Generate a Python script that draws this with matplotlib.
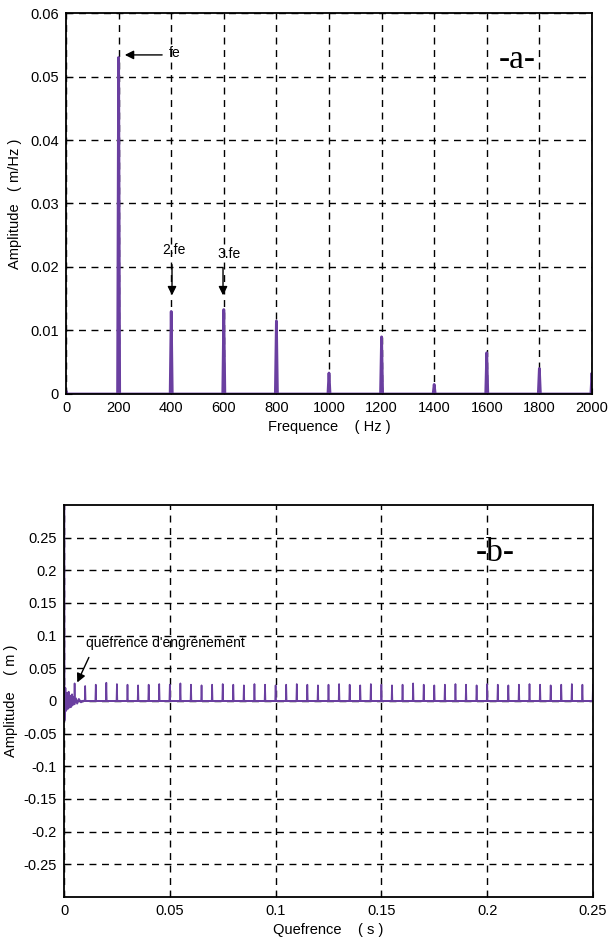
import numpy as np
import matplotlib.pyplot as plt
from matplotlib.ticker import FormatStrFormatter

plt.rcParams['font.family'] = ['Liberation Sans', 'DejaVu Sans']

# Spectre : raies a fe = 200 Hz et harmoniques
freq_peaks = [0, 200, 400, 600, 800, 1000, 1200, 1400, 1600, 1800, 2000]
amp_peaks = [0.0005, 0.053, 0.013, 0.0133, 0.0115, 0.0033, 0.009, 0.0015, 0.0065, 0.004, 0.0033]

# Cepstre : pics tous les 1/fe = 0.005 s
q_peaks = [0.005 * k for k in range(1, 51)]
amp_qpeaks = [0.027, 0.023, 0.025, 0.028, 0.026, 0.025, 0.024, 0.025, 0.026, 0.025,
              0.027, 0.025, 0.024, 0.025, 0.026, 0.025, 0.024, 0.026, 0.025, 0.024,
              0.025, 0.026, 0.025, 0.024, 0.025, 0.026, 0.025, 0.024, 0.026, 0.025,
              0.024, 0.025, 0.027, 0.025, 0.024, 0.025, 0.026, 0.025, 0.024, 0.026,
              0.025, 0.024, 0.025, 0.026, 0.025, 0.024, 0.025, 0.026, 0.025, 0.025]
# debut du cepstre (pic a q=0 et oscillations)
q_start = [0.0, 0.0002, 0.0006, 0.001, 0.0014, 0.0018, 0.0022, 0.0026, 0.003, 0.0034,
           0.0038, 0.0042, 0.0046, 0.0050, 0.0056, 0.0062, 0.0070, 0.0080, 0.0090]
amp_start = [1.0, -0.03, 0.02, -0.015, 0.012, -0.012, 0.014, -0.01, 0.008, -0.009,
             0.01, -0.006, 0.006, -0.005, 0.004, -0.004, 0.003, -0.002, 0.0]

yticks_b = [-0.25, -0.2, -0.15, -0.1, -0.05, 0, 0.05, 0.1, 0.15, 0.2, 0.25]
ylabels_b = ['-0.25', '-0.2', '-0.15', '-0.1', '-0.05', '0', '0.05', '0.1', '0.15', '0.2', '0.25']

col = '#6a3fa0'


def spikes(pos, amp, w):
    xs, ys = [], []
    for p, a in zip(pos, amp):
        xs += [p - w, p, p + w]
        ys += [0, a, 0]
    return xs, ys


fig = plt.figure(figsize=(6.08, 9.43), dpi=100)

# --- Figure a ---
ax1 = fig.add_axes([0.1086, 0.5822, 0.865, 0.404])
x1, y1 = spikes(freq_peaks, amp_peaks, 4)
ax1.plot([0, 2000], [0, 0], color=col, lw=2)
ax1.plot(x1, y1, color=col, lw=2)
ax1.set_xlim(0, 2000)
ax1.set_ylim(0, 0.06)
ax1.set_xticks(np.arange(0, 2001, 200))
ax1.set_yticks(np.arange(0, 0.061, 0.01))
ax1.yaxis.set_major_formatter(FormatStrFormatter('%g'))
ax1.grid(True, color='k', ls=(0, (5, 4)), lw=1)
ax1.set_xlabel('Frequence    ( Hz )', fontsize=10.5, labelpad=4)
ax1.set_ylabel('Amplitude   ( m/Hz )', fontsize=10.5, labelpad=6)
ax1.text(1715, 0.0527, '-a-', family='Liberation Serif', fontsize=24, ha='center', va='center')
ax1.annotate('', xy=(213, 0.0534), xytext=(376, 0.0534),
             arrowprops=dict(arrowstyle='-|>', color='k', lw=1, mutation_scale=13))
ax1.text(392, 0.0537, 'fe', fontsize=10, ha='left', va='center')
ax1.annotate('', xy=(403, 0.0151), xytext=(403, 0.0208),
             arrowprops=dict(arrowstyle='-|>', color='k', lw=1, mutation_scale=13))
ax1.text(410, 0.0227, '2.fe', fontsize=10, ha='center', va='center')
ax1.annotate('', xy=(597, 0.0151), xytext=(597, 0.0203),
             arrowprops=dict(arrowstyle='-|>', color='k', lw=1, mutation_scale=13))
ax1.text(620, 0.0220, '3.fe', fontsize=10, ha='center', va='center')

# --- Figure b ---
ax2 = fig.add_axes([0.1053, 0.0488, 0.870, 0.4157])
x2, y2 = spikes(q_peaks, amp_qpeaks, 0.0002)
ax2.plot([0.009, 0.25], [0, 0], color=col, lw=1.4)
ax2.plot(q_start, amp_start, color=col, lw=1.4)
ax2.plot(x2, y2, color=col, lw=1.2)
ax2.set_xlim(0, 0.25)
ax2.set_ylim(-0.3, 0.3)
ax2.set_xticks(np.arange(0, 0.251, 0.05))
ax2.set_yticks(yticks_b)
ax2.set_yticklabels(ylabels_b)
ax2.xaxis.set_major_formatter(FormatStrFormatter('%g'))
ax2.grid(True, color='k', ls=(0, (5, 4)), lw=1)
ax2.set_xlabel('Quefrence    ( s )', fontsize=10.5, labelpad=4)
ax2.set_ylabel('Amplitude    ( m )', fontsize=10.5, labelpad=4)
ax2.text(0.2037, 0.2265, '-b-', family='Liberation Serif', fontsize=24, ha='center', va='center')
ax2.annotate('', xy=(0.0057, 0.0245), xytext=(0.0123, 0.0705),
             arrowprops=dict(arrowstyle='-|>', color='k', lw=1, mutation_scale=13))
ax2.text(0.0104, 0.0888, "quefrence d'engrènement", fontsize=10, ha='left', va='center')

for ax in (ax1, ax2):
    ax.tick_params(direction='in', labelsize=10.5, length=4, color='k', pad=5)
    ax.set_axisbelow(True)
    for s in ax.spines.values():
        s.set_linewidth(1.3)

fig.savefig('out.png', dpi=100)
